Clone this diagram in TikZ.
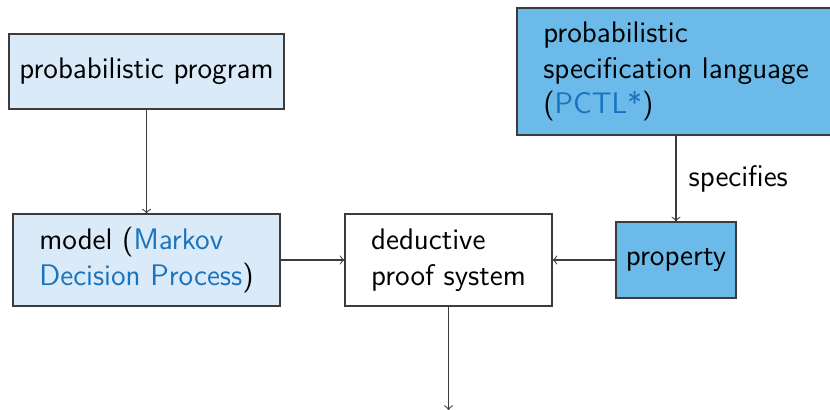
\documentclass[tikz,border=0pt]{standalone}
\usepackage{xcolor}
\definecolor{lightfill}{RGB}{218,234,248}
\definecolor{darkfill}{RGB}{108,186,233}
\definecolor{linkblue}{RGB}{25,115,190}
\definecolor{edgegray}{RGB}{60,60,60}
\begin{document}
\begin{tikzpicture}[x=0.4pt,y=-0.4pt,
  every node/.style={font=\sffamily\fontsize{11.9}{14.2}\selectfont},
  box/.style={draw=edgegray, line width=0.42pt, inner sep=0pt, align=left},
  conn/.style={->, draw=edgegray, line width=0.42pt}]
\useasboundingbox (0,0) rectangle (830,410);
\node[box, fill=lightfill, minimum width=110pt, minimum height=30pt] (pp) at (146.5,71.5) {probabilistic program};
\node[box, fill=darkfill, minimum width=127.2pt, minimum height=50.8pt] (pctl) at (676,71.5) {probabilistic\\specification language\\(\textcolor{linkblue}{PCTL*})};
\node[box, fill=lightfill, minimum width=106.8pt, minimum height=36.8pt] (model) at (146.5,260) {model (\textcolor{linkblue}{Markov}\\\textcolor{linkblue}{Decision Process})};
\node[box, fill=white, minimum width=82.8pt, minimum height=36.8pt] (ded) at (448.5,260) {deductive\\proof system};
\node[box, fill=darkfill, minimum width=48pt, minimum height=30.4pt] (prop) at (676,260) {property};
\coordinate (out) at (448.5,410);
\draw[conn] (pp) -- (model);
\draw[conn] (pctl.south -| prop) -- node[right, xshift=1.5pt] (spec) {specifies} (prop);
\draw[conn] (model) -- (ded);
\draw[conn] (prop) -- (ded);
\draw[conn] (ded) -- (out);
\end{tikzpicture}
\end{document}
